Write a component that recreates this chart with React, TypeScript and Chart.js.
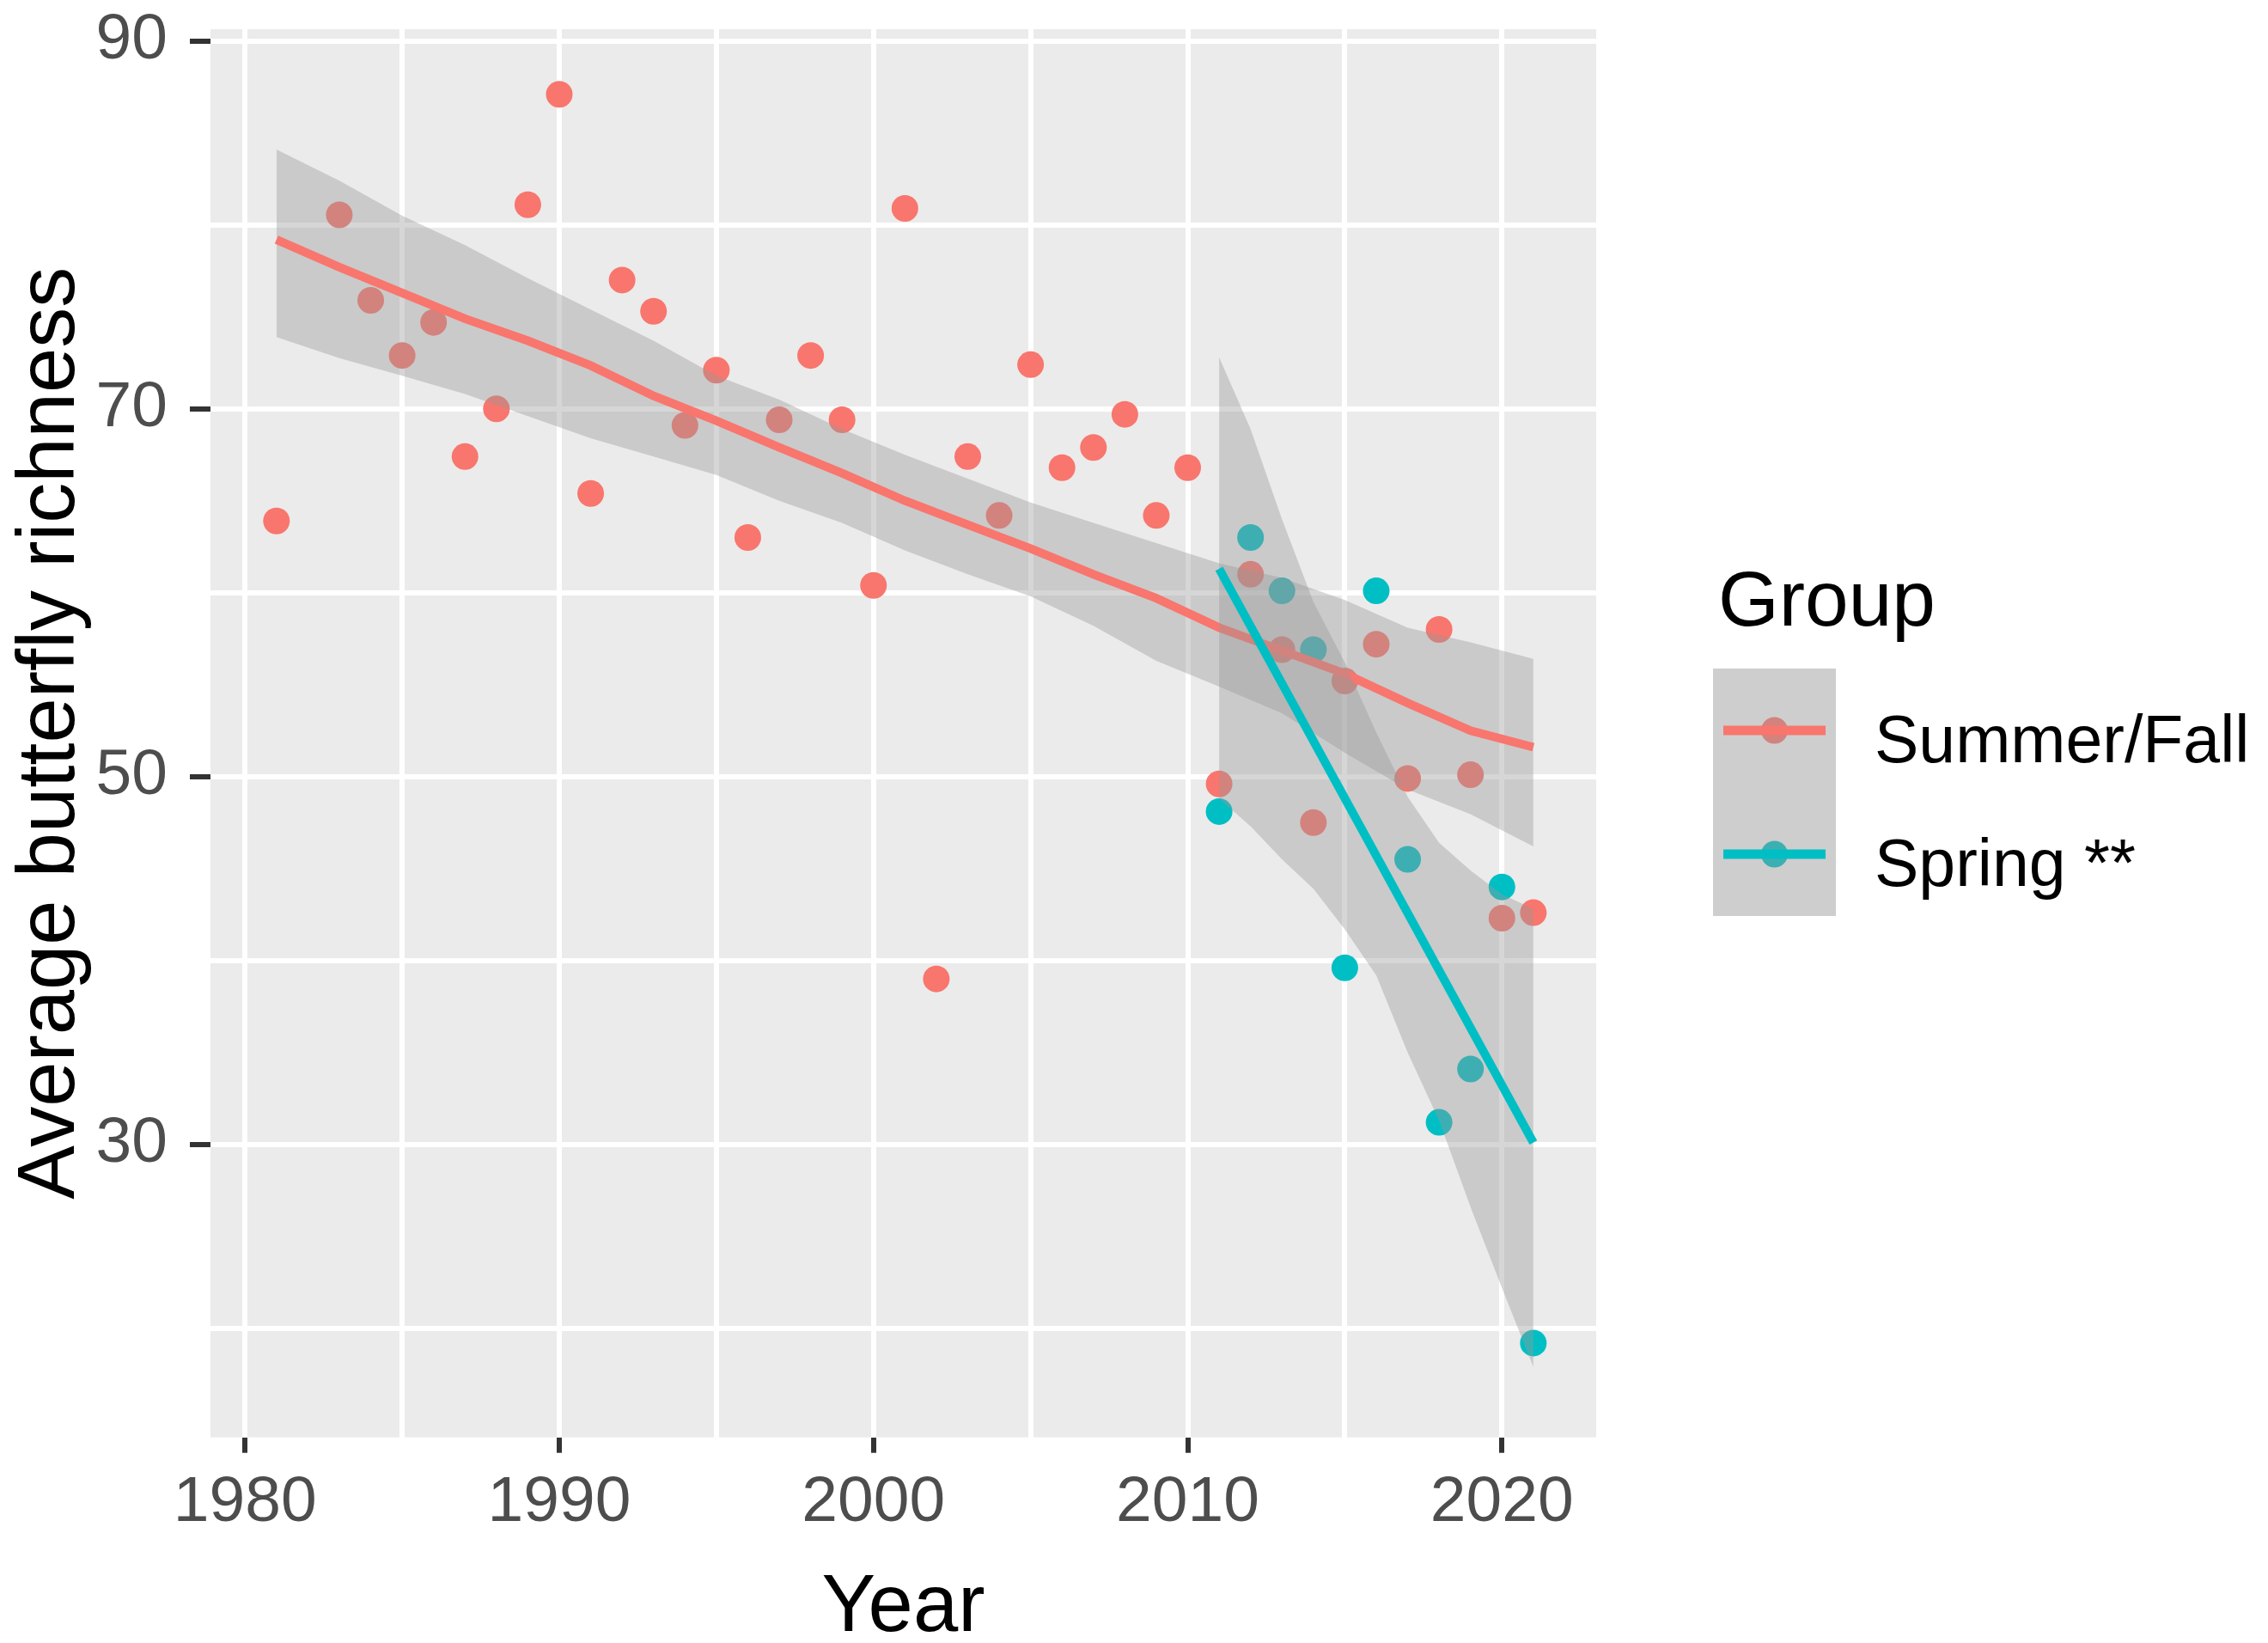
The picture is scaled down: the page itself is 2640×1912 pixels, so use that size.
import React, { useEffect, useRef } from "react";
import { Chart, registerables } from "chart.js";

Chart.register(...registerables);

const W = 2640;
const H = 1912;
const FONT = "'Liberation Sans', Arial, sans-serif";

// ---- Data ----
const summerYears = [1981, 1983, 1984, 1985, 1986, 1987, 1988, 1989, 1990, 1991, 1992, 1993, 1994, 1995, 1996, 1997, 1998, 1999, 2000, 2001, 2002, 2003, 2004, 2005, 2006, 2007, 2008, 2009, 2010, 2011, 2012, 2013, 2014, 2015, 2016, 2017, 2018, 2019, 2020, 2021];
const summerValues = [63.9, 80.55, 75.9, 72.9, 74.7, 67.4, 70.0, 81.1, 87.1, 65.4, 77.0, 75.3, 69.1, 72.1, 63.0, 69.4, 72.9, 69.4, 60.4, 80.9, 39.0, 67.4, 64.2, 72.4, 66.8, 67.9, 69.7, 64.2, 66.8, 49.6, 61.0, 56.9, 47.5, 55.2, 57.2, 49.9, 58.0, 50.1, 42.3, 42.6];

const springYears = [2011, 2012, 2013, 2014, 2015, 2016, 2017, 2018, 2019, 2020, 2021];
const springValues = [48.1, 63.0, 60.1, 56.9, 39.6, 60.1, 45.5, 31.2, 34.1, 44.0, 19.2];

// smoothed fit (loess) and its confidence band, Summer/Fall
const summerBandYears = [1981, 1983, 1985, 1987, 1989, 1991, 1993, 1995, 1997, 1999, 2001, 2003, 2005, 2007, 2009, 2011, 2013, 2015, 2017, 2019, 2021];
const summerFit = [79.2, 77.7, 76.3, 74.9, 73.7, 72.35, 70.7, 69.35, 67.9, 66.5, 65.0, 63.7, 62.4, 61.0, 59.7, 58.1, 56.85, 55.6, 54.0, 52.5, 51.6];
const summerUpper = [84.1, 82.4, 80.5, 78.9, 77.1, 75.4, 73.7, 71.8, 70.5, 68.9, 67.5, 66.2, 64.9, 63.8, 62.7, 61.6, 60.8, 59.6, 58.1, 57.3, 56.4];
const summerLower = [73.9, 72.75, 71.8, 70.8, 69.6, 68.4, 67.4, 66.4, 65.0, 63.8, 62.3, 61.0, 59.8, 58.2, 56.3, 54.9, 53.45, 51.3, 49.3, 47.95, 46.2];

// linear fit and its confidence band, Spring
const springFitYears = [2011, 2021];
const springFit = [61.3, 30.1];
const springBandYears = [2011, 2012, 2013, 2014, 2015, 2016, 2017, 2018, 2019, 2020, 2021];
const springUpper = [72.8, 68.9, 64.0, 59.5, 56.2, 52.4, 48.9, 46.4, 44.9, 43.6, 42.8];
const springLower = [48.8, 47.3, 45.5, 43.9, 41.7, 39.2, 35.0, 31.3, 26.6, 22.2, 17.9];

const xGridValues = [1980, 1985, 1990, 1995, 2000, 2005, 2010, 2015, 2020];
const xTickLabels = [1980, 1990, 2000, 2010, 2020];
const yGridValues = [20, 30, 40, 50, 60, 70, 80, 90];
const yTickLabels = [30, 50, 70, 90];

const groupTitle = "Group";
const groupLabels = ["Summer/Fall", "Spring **"];
const xTitle = "Year";
const yTitle = "Average butterfly richness";

const SALMON = "#F8766D";
const TEAL = "#00BFC4";
const RIBBON = "rgba(153,153,153,0.4)";

const pts = (xs: number[], ys: number[]) => xs.map((x, i) => ({ x, y: ys[i] }));

const decorPlugin = {
  id: "decor",
  beforeDraw(chart: any) {
    const { ctx, chartArea: a } = chart;
    ctx.save();
    ctx.fillStyle = "#FFFFFF";
    ctx.fillRect(0, 0, W, H);
    ctx.fillStyle = "#EBEBEB";
    ctx.fillRect(a.left, a.top, a.right - a.left, a.bottom - a.top);
    ctx.restore();
  },
  afterDraw(chart: any) {
    const { ctx, chartArea: a } = chart;
    ctx.save();
    // axis titles
    ctx.fillStyle = "#000000";
    ctx.font = `94px ${FONT}`;
    ctx.textAlign = "center";
    ctx.textBaseline = "alphabetic";
    ctx.fillText(xTitle, (a.left + a.right) / 2, 1898);
    ctx.save();
    ctx.translate(86, (a.top + a.bottom) / 2);
    ctx.rotate(-Math.PI / 2);
    ctx.fillText(yTitle, 0, 0);
    ctx.restore();

    // legend
    ctx.textAlign = "left";
    ctx.font = `91px ${FONT}`;
    ctx.fillText(groupTitle, 2000, 728);
    const colors = [SALMON, TEAL];
    const keyX = 1994, keyW = 143, keyH = 144, keyTop = 778;
    for (let i = 0; i < 2; i++) {
      const y0 = keyTop + i * keyH;
      const cy = y0 + keyH / 2;
      const cx = keyX + keyW / 2;
      ctx.fillStyle = "#F2F2F2";
      ctx.fillRect(keyX, y0, keyW, keyH);
      ctx.fillStyle = colors[i];
      ctx.beginPath();
      ctx.arc(cx, cy, 15.5, 0, Math.PI * 2);
      ctx.fill();
      ctx.fillStyle = RIBBON;
      ctx.fillRect(keyX, y0, keyW, keyH);
      ctx.strokeStyle = colors[i];
      ctx.lineWidth = 11;
      ctx.lineCap = "butt";
      ctx.beginPath();
      ctx.moveTo(keyX + 12, cy);
      ctx.lineTo(keyX + keyW - 12, cy);
      ctx.stroke();
      ctx.fillStyle = "#000000";
      ctx.font = `77px ${FONT}`;
      ctx.fillText(groupLabels[i], 2182, cy + 37);
    }
    ctx.restore();
  },
};

export default function App() {
  const ref = useRef<HTMLCanvasElement | null>(null);

  useEffect(() => {
    document.body.style.margin = "0";
    const canvas = ref.current;
    if (!canvas) return;
    const lineDs = (data: any[], color: string, order: number) => ({
      data,
      borderColor: color,
      borderWidth: 10,
      pointRadius: 0,
      fill: false,
      tension: 0,
      order,
    });
    const bandDs = (data: any[], order: number, fill: any) => ({
      data,
      borderColor: "rgba(0,0,0,0)",
      borderWidth: 0,
      backgroundColor: RIBBON,
      pointRadius: 0,
      tension: 0,
      fill,
      order,
    });
    const chart = new Chart(canvas, {
      type: "line",
      data: {
        datasets: [
          lineDs(pts(springFitYears, springFit), TEAL, 0) as any,
          bandDs(pts(springBandYears, springUpper), 1, { target: 2 }) as any,
          bandDs(pts(springBandYears, springLower), 1, false) as any,
          lineDs(pts(summerBandYears, summerFit), SALMON, 2) as any,
          bandDs(pts(summerBandYears, summerUpper), 3, { target: 5 }) as any,
          bandDs(pts(summerBandYears, summerLower), 3, false) as any,
          {
            data: pts(springYears, springValues),
            showLine: false,
            pointRadius: 15.5,
            pointBackgroundColor: TEAL,
            pointBorderWidth: 0,
            borderColor: TEAL,
            order: 4,
          } as any,
          {
            data: pts(summerYears, summerValues),
            showLine: false,
            pointRadius: 15.5,
            pointBackgroundColor: SALMON,
            pointBorderWidth: 0,
            borderColor: SALMON,
            order: 5,
          } as any,
        ],
      },
      options: {
        responsive: false,
        animation: false,
        devicePixelRatio: 1,
        events: [],
        layout: { padding: { top: 34, right: 782, bottom: 0, left: 0 } },
        plugins: {
          legend: { display: false },
          tooltip: { enabled: false },
        },
        scales: {
          x: {
            type: "linear",
            min: 1978.9,
            max: 2023,
            afterBuildTicks: (s: any) => {
              s.ticks = xGridValues.map((v) => ({ value: v }));
            },
            afterFit: (s: any) => {
              s.height = H - 1672.7;
              s.paddingLeft = 0;
              s.paddingRight = 0;
            },
            border: { display: false },
            grid: {
              color: "#FFFFFF",
              lineWidth: 6,
              drawTicks: true,
              tickLength: 18,
              tickWidth: 6,
              tickColor: (c: any) =>
                c.tick && xTickLabels.includes(c.tick.value) ? "#333333" : "rgba(0,0,0,0)",
            },
            ticks: {
              autoSkip: false,
              maxRotation: 0,
              minRotation: 0,
              padding: 14,
              color: "#4D4D4D",
              font: { family: FONT, size: 75 },
              callback: (v: any) => (xTickLabels.includes(Number(v)) ? String(v) : ""),
            },
          },
          y: {
            type: "linear",
            min: 14.07,
            max: 90.64,
            afterBuildTicks: (s: any) => {
              s.ticks = yGridValues.map((v) => ({ value: v }));
            },
            afterFit: (s: any) => {
              s.width = 245;
              s.paddingTop = 0;
              s.paddingBottom = 0;
            },
            border: { display: false },
            grid: {
              color: "#FFFFFF",
              lineWidth: 6,
              drawTicks: true,
              tickLength: 24,
              tickWidth: 6,
              tickColor: (c: any) =>
                c.tick && yTickLabels.includes(c.tick.value) ? "#333333" : "rgba(0,0,0,0)",
            },
            ticks: {
              autoSkip: false,
              padding: 26,
              color: "#4D4D4D",
              font: { family: FONT, size: 75 },
              callback: (v: any) => (yTickLabels.includes(Number(v)) ? String(v) : ""),
            },
          },
        },
      },
      plugins: [decorPlugin],
    });
    return () => {
      chart.destroy();
    };
  }, []);

  return (
    <div style={{ position: "absolute", left: 0, top: 0, width: W, height: H, background: "#FFFFFF" }}>
      <canvas ref={ref} width={W} height={H} style={{ width: W, height: H, display: "block" }} />
    </div>
  );
}
